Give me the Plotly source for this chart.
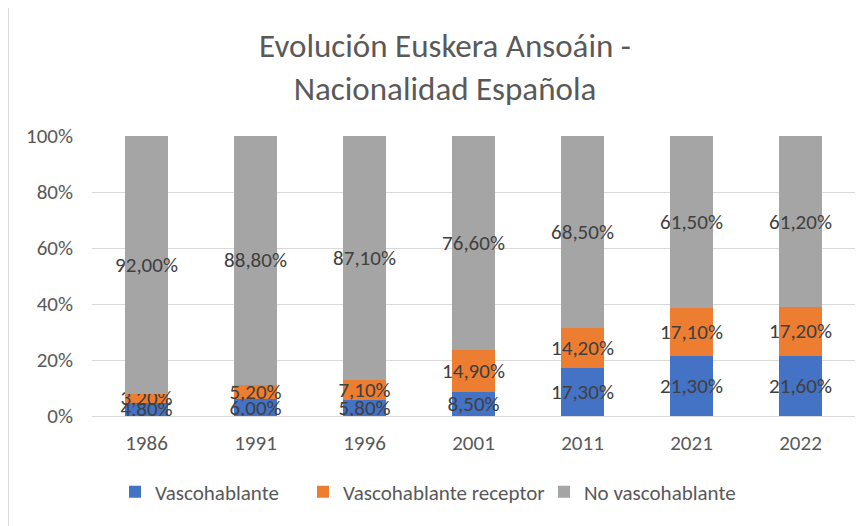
import plotly.graph_objects as go

years = ["1986", "1991", "1996", "2001", "2011", "2021", "2022"]
vascohablante = [4.80, 6.00, 5.80, 8.50, 17.30, 21.30, 21.60]
receptor = [3.20, 5.20, 7.10, 14.90, 14.20, 17.10, 17.20]
no_vasco = [92.00, 88.80, 87.10, 76.60, 68.50, 61.50, 61.20]
series_names = ["Vascohablante", "Vascohablante receptor", "No vascohablante"]
colors = ["#4472C4", "#ED7D31", "#A5A5A5"]
y_ticks = [0, 20, 40, 60, 80, 100]
y_tick_labels = ["0%", "20%", "40%", "60%", "80%", "100%"]

FONT = "Carlito, Lato, 'Open Sans', sans-serif"

def fmt(v):
    return f"{v:.2f}".replace(".", ",") + "%"

# page body has an 8px margin: figure coords = screen coords - 8
OFF = 8
W, H = 868 - OFF, 526 - OFF
L, R, T, B = 92 - OFF, 13, 136 - OFF, 110
pw, ph = W - L - R, H - T - B

def px(x):
    return (x - OFF - L) / pw

def py(y):
    return (H - B - (y - OFF)) / ph

legend_ids = ["legend", "legend2", "legend3"]
legend_left = [115, 303, 544]

fig = go.Figure()
for name, vals, col, lg in zip(series_names, [vascohablante, receptor, no_vasco], colors, legend_ids):
    fig.add_trace(go.Bar(
        x=years, y=vals, name=name, legend=lg, showlegend=True,
        marker=dict(color=col, line=dict(width=0)),
        text=[fmt(v) for v in vals], textposition="inside", insidetextanchor="middle",
        textangle=0, constraintext="none",
        textfont=dict(family=FONT, size=21, color="#404040"),
    ))

legend_common = dict(
    orientation="h", yanchor="middle", xanchor="left",
    font=dict(family=FONT, size=21, color="#595959"),
    itemwidth=30, bgcolor="rgba(0,0,0,0)", visible=True,
)
legend_layout = {
    lg: dict(legend_common, x=px(xl), y=py(492))
    for lg, xl in zip(legend_ids, legend_left)
}

fig.update_layout(
    width=W, height=H, showlegend=True,
    barmode="stack", bargap=0.605,
    margin=dict(l=L, r=R, t=T, b=B, pad=0),
    paper_bgcolor="white", plot_bgcolor="white",
    font=dict(family=FONT, color="#595959"),
    uniformtext=dict(minsize=21, mode="show"),
    title=dict(
        text="Evolución Euskera Ansoáin -<br>Nacionalidad Española",
        x=(445 - OFF) / W, xanchor="center", xref="container",
        y=1 - (57 - OFF) / H, yanchor="middle", yref="container",
        font=dict(family=FONT, size=33, color="#595959"),
    ),
    xaxis=dict(
        showgrid=False, showline=False, ticks="", ticklabelstandoff=12,
        tickfont=dict(family=FONT, size=21, color="#595959"),
    ),
    yaxis=dict(
        range=[0, 100], tickvals=y_ticks, ticktext=y_tick_labels,
        showgrid=True, gridcolor="#D9D9D9", gridwidth=1,
        zeroline=True, zerolinecolor="#D9D9D9", zerolinewidth=1,
        showline=False, ticks="", ticklabelstandoff=18,
        tickfont=dict(family=FONT, size=21, color="#595959"),
    ),
    shapes=[dict(
        type="line", xref="paper", yref="paper",
        x0=px(8.5), x1=px(8.5), y0=py(8), y1=py(526),
        line=dict(color="#D9D9D9", width=1), layer="below",
    )],
    **legend_layout,
)

fig.write_html("out.html")
